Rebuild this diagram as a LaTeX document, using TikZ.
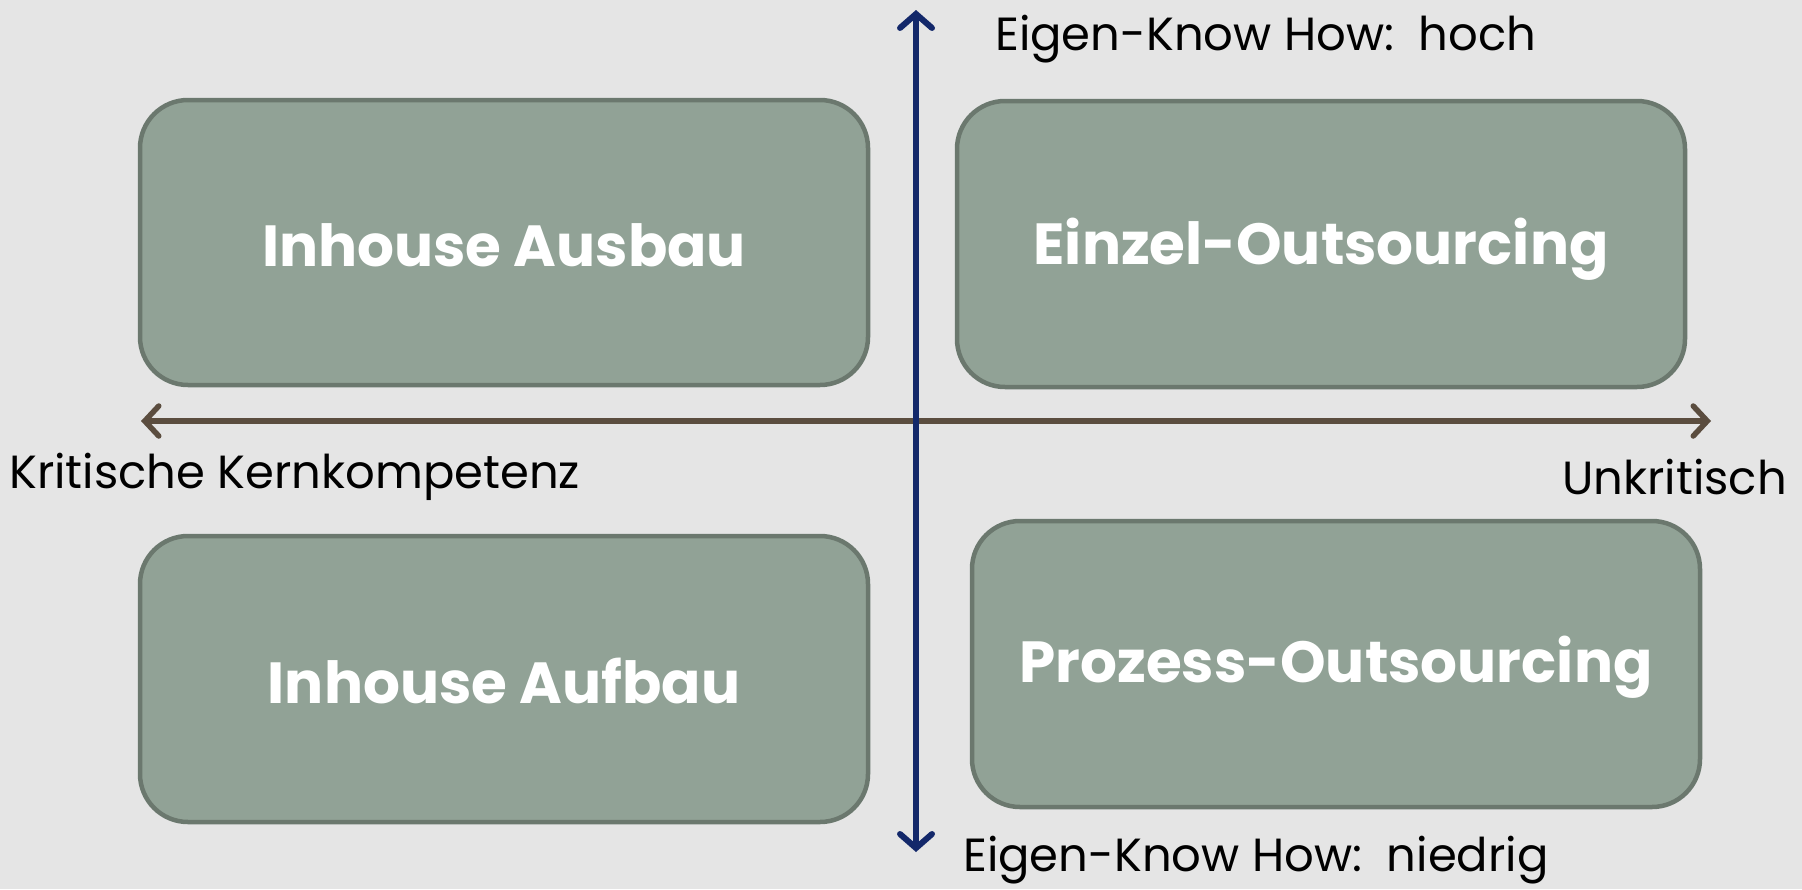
\documentclass[tikz,border=0pt]{standalone}
\usepackage{fontspec}
\setmainfont{Poppins}
\usetikzlibrary{arrows.meta}
\definecolor{bg}{HTML}{E5E5E5}
\definecolor{boxfill}{HTML}{91A296}
\definecolor{boxline}{HTML}{6B786E}
\definecolor{navy}{HTML}{13286A}
\definecolor{brownax}{HTML}{5B4D3F}
\tikzset{
  quad/.style={draw=boxline, fill=boxfill, line width=4.5pt, rounded corners=48pt, inner sep=0pt},
  quadtext/.style={text=white, font=\fontsize{58}{66}\selectfont\bfseries},
  axislabel/.style={text=black, font=\fontsize{46.5}{54}\selectfont\mdseries, inner sep=0pt},
  vaxis/.style={draw=navy, line width=6pt, {Straight Barb[length=14pt,width=32pt,line cap=round]}-{Straight Barb[length=14pt,width=32pt,line cap=round]}},
  haxis/.style={draw=brownax, line width=5.5pt, {Straight Barb[length=14pt,width=30pt,line cap=round]}-{Straight Barb[length=14pt,width=30pt,line cap=round]}}
}
\begin{document}
\begin{tikzpicture}[x=1pt,y=-1pt]
\fill[bg] (0,0) rectangle (1802,889);
\useasboundingbox (0,0) rectangle (1802,889);
% quadrant boxes
\draw[quad] (140,100) rectangle (868,385);
\node[quadtext] (b1) at (504,245) {Inhouse Ausbau};
\draw[quad] (957,101) rectangle (1685,387);
\node[quadtext] (b2) at (1321,249) {Einzel-Outsourcing};
\draw[quad] (140,536) rectangle (868,822);
\node[quadtext] (b3) at (504,681) {Inhouse Aufbau};
\draw[quad] (972,521) rectangle (1700,807);
\node[quadtext] (b4) at (1336,667) {Prozess-Outsourcing};
% axes
\coordinate (vtop) at (916,10);
\coordinate (vbot) at (916,852);
\coordinate (hleft) at (141,421);
\coordinate (hright) at (1711,421);
\draw[haxis] (hleft) -- (hright);
\draw[vaxis] (vbot) -- (vtop);
% labels
\node[axislabel, anchor=west] (lhoch) at (995,39) {Eigen-Know How:\ \ hoch};
\node[axislabel, anchor=base west] (lnied) at (963,871) {Eigen-Know How:\ \ niedrig};
\node[axislabel, anchor=west] (lkrit) at (9,477) {Kritische Kernkompetenz};
\node[axislabel, anchor=east] (lunk) at (1787,477) {Unkritisch};
\end{tikzpicture}
\end{document}
